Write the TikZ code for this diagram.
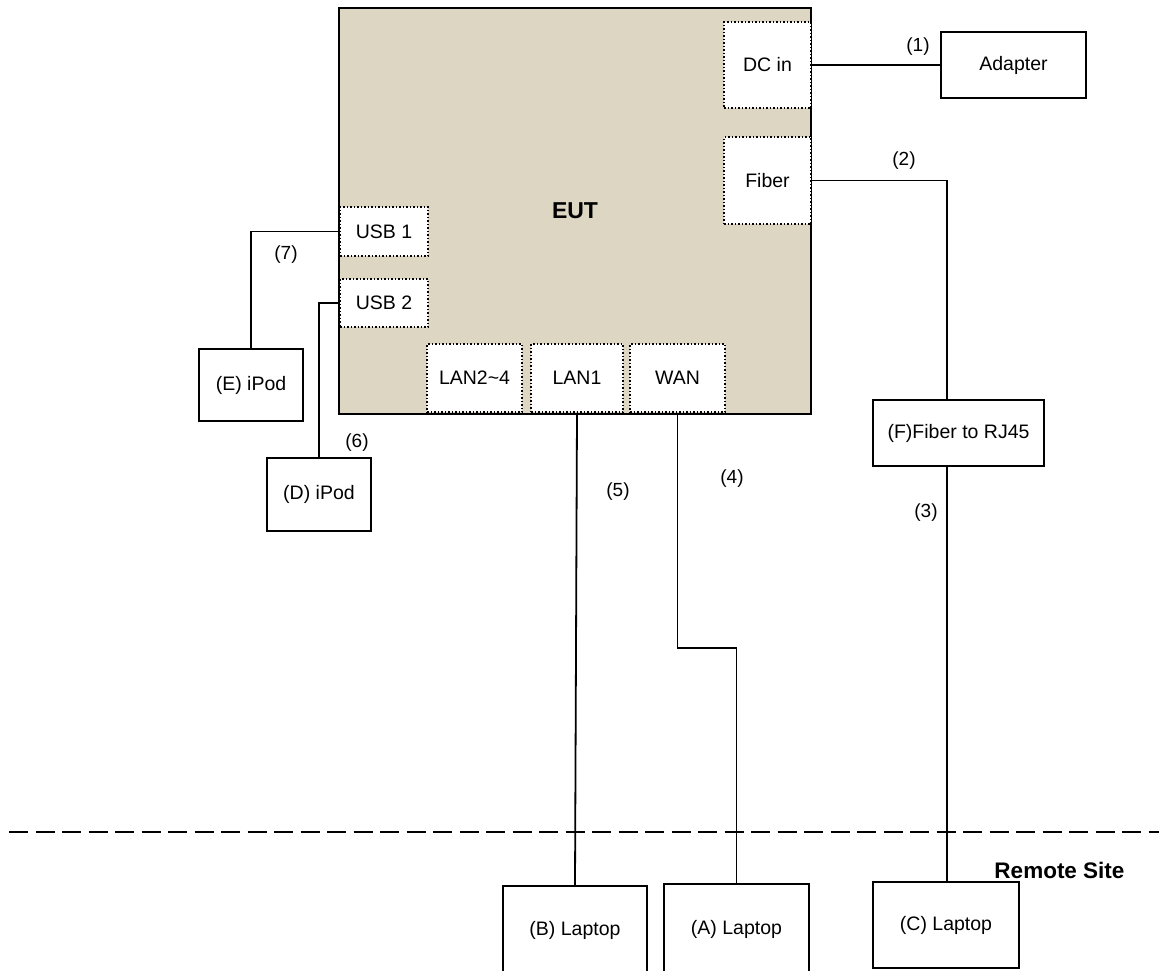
\documentclass[tikz,border=0pt]{standalone}
\usepackage{fontspec}
\setmainfont{Liberation Sans}
\usetikzlibrary{positioning}
\definecolor{eutfill}{RGB}{220,214,194}
\tikzset{
  box/.style={draw,line width=1.8pt,fill=white,inner sep=0pt,font=\fontsize{19.5}{23}\selectfont},
  port/.style={draw,dotted,line width=1.5pt,fill=white,inner sep=0pt,font=\fontsize{19.5}{23}\selectfont},
  wire/.style={line width=1.8pt},
  lbl/.style={font=\fontsize{19}{22}\selectfont}
}
\begin{document}
\begin{tikzpicture}[x=1pt,y=-1pt]
        \useasboundingbox (0,0) rectangle (1159,970);

        \node [draw,line width=1.8pt,fill=eutfill,minimum width=472pt,minimum height=406pt,font=\fontsize{23}{26}\selectfont\bfseries] at (575,211) (eut){EUT};

        \node [port,minimum width=87pt,minimum height=86pt] at (767.5,65) (dcin){DC in};
        \node [port,minimum width=87pt,minimum height=87pt] at (767.5,180.5) (fiber){Fiber};
        \node [port,minimum width=88pt,minimum height=49pt] at (384,231.5) (usb1){USB 1};
        \node [port,minimum width=88pt,minimum height=48pt] at (384,303) (usb2){USB 2};
        \node [port,minimum width=95pt,minimum height=68pt] at (474.5,378) (lan24){LAN2\textasciitilde4};
        \node [port,minimum width=92pt,minimum height=68pt] at (577,378) (lan1){LAN1};
        \node [port,minimum width=95pt,minimum height=68pt] at (677.5,378) (wan){WAN};

        \node [box,minimum width=145pt,minimum height=66pt] at (1013.5,65) (adapter){Adapter};
        \node [box,minimum width=171pt,minimum height=66pt] at (958.5,433) (conv){(F)Fiber to RJ45};
        \node [box,minimum width=104pt,minimum height=72pt] at (251,385) (ipode){(E) iPod};
        \node [box,minimum width=104pt,minimum height=73pt] at (319,494.5) (ipodd){(D) iPod};
        \node [box,minimum width=144pt,minimum height=89pt] at (575,930.5) (laptopb){(B) Laptop};
        \node [box,minimum width=145pt,minimum height=91pt] at (736.5,929.5) (laptopa){(A) Laptop};
        \node [box,minimum width=146pt,minimum height=86pt] at (946,925) (laptopc){(C) Laptop};

        \coordinate (fx) at (947,0);
        \coordinate (jog) at (0,648);
        \coordinate (sl) at (9,832);
        \coordinate (sr) at (1159,832);

        \draw [wire] (dcin.east) -- (adapter.west);
        \draw [wire] (fiber.east) -| (fx |- conv.north);
        \draw [wire] (fx |- conv.south) -- (fx |- laptopc.north);
        \draw [wire] (wan.south) -- (wan.south |- jog) -| (laptopa.north);
        \draw [wire] (lan1.south) -- (laptopb.north);
        \draw [wire] (usb1.west) -| (ipode.north);
        \draw [wire] (usb2.west) -| (ipodd.north);

        \draw [line width=2pt,dash pattern=on 19pt off 7.5pt] (sl) -- (sr);

        \node [lbl] at (918,47) (l1){(1)};
        \node [lbl] at (904,161) (l2){(2)};
        \node [lbl] at (926,513) (l3){(3)};
        \node [lbl] at (732,479) (l4){(4)};
        \node [lbl] at (618,492) (l5){(5)};
        \node [lbl] at (357,443) (l6){(6)};
        \node [lbl] at (286,255) (l7){(7)};
        \node [font=\fontsize{22.5}{26}\selectfont\bfseries] at (1059.5,870) (remote){Remote Site};
      \end{tikzpicture}
\end{document}
